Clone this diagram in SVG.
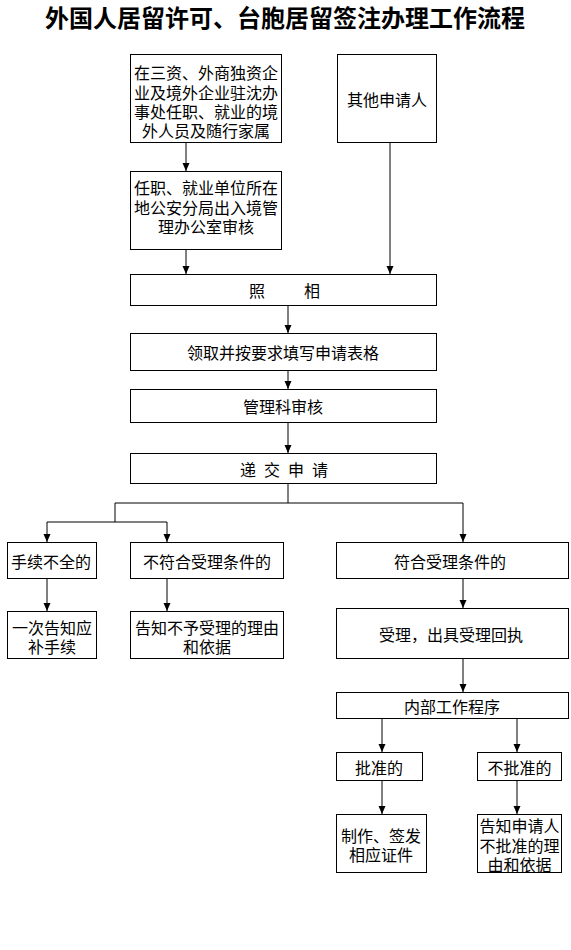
<svg xmlns="http://www.w3.org/2000/svg" width="571" height="950" viewBox="0 0 571 950">
<style>
  .box { fill: #ffffff; stroke: #000000; stroke-width: 1; }
  .t { font-family: "Noto Sans CJK SC", "Noto Sans", sans-serif; font-size: 16px; fill: #000000; text-anchor: middle; dominant-baseline: central; }
  .title { font-family: "Noto Sans CJK SC", "Noto Sans", sans-serif; font-size: 24px; font-weight: bold; fill: #000000; text-anchor: middle; dominant-baseline: central; }
  .ln { fill: none; stroke: #000000; stroke-width: 1; }
  .ar { fill: none; stroke: #000000; stroke-width: 1; marker-end: url(#arr); }
</style>
<defs>
  <marker id="arr" markerUnits="userSpaceOnUse" markerWidth="8" markerHeight="8" refX="8" refY="3.5" orient="auto">
    <path d="M0,0 L8,3.5 L0,7 z" fill="#000000"/>
  </marker>
</defs>
<rect width="571" height="950" fill="#ffffff"/>
<text class="title" x="285" y="16">外国人居留许可、台胞居留签注办理工作流程</text>

<g id="connectors">
  <line class="ar" x1="186" y1="142" x2="186" y2="171"/>
  <line class="ar" x1="186" y1="249" x2="186" y2="274"/>
  <line class="ar" x1="390" y1="142" x2="390" y2="274"/>
  <line class="ar" x1="288" y1="305" x2="288" y2="333"/>
  <line class="ar" x1="288" y1="370" x2="288" y2="389"/>
  <line class="ar" x1="288" y1="422" x2="288" y2="453"/>
  <polyline class="ln" points="288,483 288,503"/>
  <polyline class="ln" points="115,503 463,503"/>
  <polyline class="ln" points="115,503 115,522"/>
  <polyline class="ln" points="47,522 167,522"/>
  <line class="ar" x1="47" y1="522" x2="47" y2="542"/>
  <line class="ar" x1="167" y1="522" x2="167" y2="542"/>
  <line class="ar" x1="463" y1="503" x2="463" y2="542"/>
  <line class="ar" x1="47" y1="578" x2="47" y2="611"/>
  <line class="ar" x1="167" y1="578" x2="167" y2="611"/>
  <line class="ar" x1="463" y1="578" x2="463" y2="608"/>
  <line class="ar" x1="463" y1="658" x2="463" y2="692"/>
  <line class="ar" x1="382" y1="718" x2="382" y2="752"/>
  <line class="ar" x1="517" y1="718" x2="517" y2="752"/>
  <line class="ar" x1="382" y1="780" x2="382" y2="814"/>
  <line class="ar" x1="517" y1="780" x2="517" y2="814"/>
</g>

<g id="n1">
  <rect class="box" x="130.5" y="54.5" width="151" height="88"/>
  <text class="t" x="206" y="72">在三资、外商独资企</text>
  <text class="t" x="206" y="91.5">业及境外企业驻沈办</text>
  <text class="t" x="206" y="111">事处任职、就业的境</text>
  <text class="t" x="206" y="130">外人员及随行家属</text>
</g>
<g id="n2">
  <rect class="box" x="337.5" y="54.5" width="99" height="88"/>
  <text class="t" x="387" y="99">其他申请人</text>
</g>
<g id="n3">
  <rect class="box" x="130.5" y="171.5" width="151" height="78"/>
  <text class="t" x="206" y="187">任职、就业单位所在</text>
  <text class="t" x="206" y="206.5">地公安分局出入境管</text>
  <text class="t" x="206" y="226">理办公室审核</text>
</g>
<g id="n4">
  <rect class="box" x="130.5" y="274.5" width="306" height="31"/>
  <text class="t" x="257 284.5 312" y="290">照　相</text>
</g>
<g id="n5">
  <rect class="box" x="130.5" y="333.5" width="306" height="37"/>
  <text class="t" x="283" y="351.5">领取并按要求填写申请表格</text>
</g>
<g id="n6">
  <rect class="box" x="130.5" y="389.5" width="306" height="33"/>
  <text class="t" x="283" y="406">管理科审核</text>
</g>
<g id="n7">
  <rect class="box" x="130.5" y="453.5" width="306" height="30"/>
  <text class="t" x="248 260 272 284 296 308 320" y="468.5">递 交 申 请</text>
</g>
<g id="n8">
  <rect class="box" x="7.5" y="542.5" width="89" height="36"/>
  <text class="t" x="51" y="561">手续不全的</text>
</g>
<g id="n9">
  <rect class="box" x="130.5" y="542.5" width="153" height="36"/>
  <text class="t" x="207" y="561">不符合受理条件的</text>
</g>
<g id="n10">
  <rect class="box" x="336.5" y="542.5" width="232" height="36"/>
  <text class="t" x="450" y="561">符合受理条件的</text>
</g>
<g id="n11">
  <rect class="box" x="7.5" y="611.5" width="89" height="47"/>
  <text class="t" x="52" y="627">一次告知应</text>
  <text class="t" x="52" y="645.5">补手续</text>
</g>
<g id="n12">
  <rect class="box" x="130.5" y="611.5" width="153" height="47"/>
  <text class="t" x="207" y="627">告知不予受理的理由</text>
  <text class="t" x="207" y="645.5">和依据</text>
</g>
<g id="n13">
  <rect class="box" x="336.5" y="608.5" width="232" height="50"/>
  <text class="t" x="451" y="634">受理，出具受理回执</text>
</g>
<g id="n14">
  <rect class="box" x="336.5" y="692.5" width="232" height="26"/>
  <text class="t" x="452" y="705.5">内部工作程序</text>
</g>
<g id="n15">
  <rect class="box" x="336.5" y="752.5" width="86" height="28"/>
  <text class="t" x="379" y="766.5">批准的</text>
</g>
<g id="n16">
  <rect class="box" x="477.5" y="752.5" width="84" height="28"/>
  <text class="t" x="519.5" y="766.5">不批准的</text>
</g>
<g id="n17">
  <rect class="box" x="336.5" y="814.5" width="90" height="58"/>
  <text class="t" x="381" y="835">制作、签发</text>
  <text class="t" x="381" y="854">相应证件</text>
</g>
<g id="n18">
  <rect class="box" x="477.5" y="814.5" width="84" height="58"/>
  <text class="t" x="519.5" y="825">告知申请人</text>
  <text class="t" x="519.5" y="844.5">不批准的理</text>
  <text class="t" x="519.5" y="864">由和依据</text>
</g>
</svg>
